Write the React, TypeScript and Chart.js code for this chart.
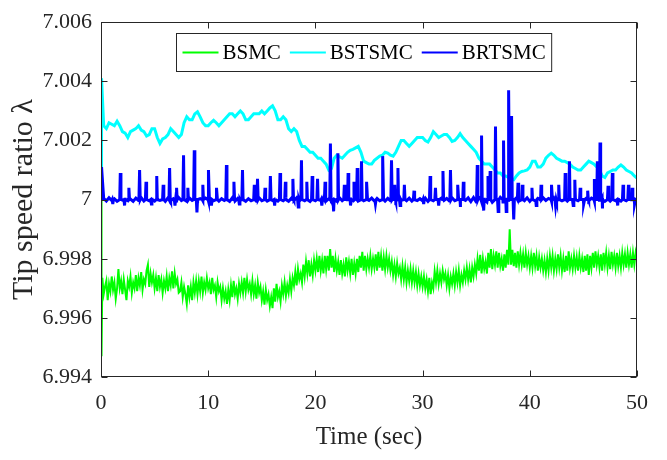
import React, { useEffect, useRef } from "react";
import { Chart, registerables } from "chart.js";

Chart.register(...registerables);

// ---------- data ----------
const seriesNames = ["BSMC", "BSTSMC", "BRTSMC"];
const xTickValues = [0, 10, 20, 30, 40, 50];
const yTickValues = [6.994, 6.996, 6.998, 7, 7.002, 7.004, 7.006];

// initial transient (t = 0 and just after)
const startTime = [0, 0.05];
const bsmcStart = [7.0, 6.9947];
const bstsmcStart = [7.0, 7.0041];
const brtsmcStart = [7.0, 7.0011];

// BSMC sampled every 0.125 s (0.125 .. 50 s)
const bsmcTime = Array.from({ length: 400 }, (_, i) => (i + 1) * 0.125);
// BSTSMC / BRTSMC baseline sampled every 0.25 s (0.25 .. 50 s)
const fineTime = Array.from({ length: 200 }, (_, i) => (i + 1) * 0.25);

const bsmc = [
  6.99735, 6.9968, 6.99705, 6.99725, 6.9966, 6.99715, 6.9969, 6.9974,
  6.99695, 6.9972, 6.99665, 6.997, 6.99765, 6.997, 6.99725, 6.9968,
  6.9973, 6.99695, 6.9966, 6.99725, 6.99705, 6.9974, 6.99685, 6.9972,
  6.997, 6.99745, 6.9969, 6.99735, 6.9971, 6.99755, 6.99695, 6.9973,
  6.99715, 6.9976, 6.9978, 6.99705, 6.9975, 6.9972, 6.99745, 6.997,
  6.99735, 6.9969, 6.99745, 6.99705, 6.9973, 6.99685, 6.99725, 6.997,
  6.9974, 6.9969, 6.99735, 6.9971, 6.99757, 6.997, 6.9975, 6.99715,
  6.9973, 6.99685, 6.9969, 6.9972, 6.9967, 6.99705, 6.9968, 6.99647,
  6.9971, 6.9967, 6.99705, 6.9966, 6.9972, 6.99685, 6.99725, 6.9968,
  6.99725, 6.9969, 6.9974, 6.99685, 6.9972, 6.99695, 6.99735, 6.997,
  6.9972, 6.9968, 6.99735, 6.99695, 6.9971, 6.9967, 6.9972, 6.9969,
  6.99705, 6.9966, 6.997, 6.99665, 6.9969, 6.99647, 6.99695, 6.9966,
  6.9971, 6.9967, 6.99725, 6.9968, 6.997, 6.99665, 6.99715, 6.99685,
  6.9972, 6.99685, 6.99735, 6.9969, 6.9973, 6.99695, 6.99715, 6.9968,
  6.99725, 6.9968, 6.9971, 6.99665, 6.9972, 6.99685, 6.99705, 6.9966,
  6.9969, 6.99645, 6.99695, 6.9966, 6.9968, 6.9964, 6.9967, 6.99633,
  6.997, 6.99655, 6.99715, 6.9967, 6.9969, 6.99655, 6.9971, 6.9968,
  6.9972, 6.99675, 6.9971, 6.99685, 6.9973, 6.9969, 6.99735, 6.9971,
  6.99755, 6.9971, 6.99765, 6.9973, 6.9975, 6.9972, 6.9978, 6.9974,
  6.9979, 6.9975, 6.99795, 6.9974, 6.9978, 6.99745, 6.99795, 6.9976,
  6.998, 6.99755, 6.9981, 6.9976, 6.99795, 6.9975, 6.9981, 6.99765,
  6.9981, 6.9976, 6.99833, 6.9977, 6.9981, 6.99755, 6.998, 6.9976,
  6.9979, 6.99745, 6.99795, 6.9975, 6.9978, 6.9974, 6.99805, 6.9976,
  6.9979, 6.9975, 6.998, 6.99745, 6.99785, 6.9975, 6.998, 6.99755,
  6.9981, 6.9977, 6.99823, 6.9976, 6.9981, 6.99765, 6.998, 6.9977,
  6.9981, 6.99765, 6.998, 6.9977, 6.99815, 6.9976, 6.99823, 6.9977,
  6.9981, 6.9976, 6.99805, 6.99765, 6.9981, 6.9977, 6.998, 6.9976,
  6.9979, 6.99745, 6.9978, 6.9974, 6.99785, 6.9975, 6.9977, 6.9973,
  6.99775, 6.9973, 6.9977, 6.9972, 6.9976, 6.99725, 6.99765, 6.9972,
  6.9976, 6.9972, 6.99755, 6.9971, 6.9975, 6.9971, 6.9974, 6.99705,
  6.9974, 6.997, 6.9973, 6.9969, 6.99735, 6.9968, 6.9972, 6.997,
  6.99757, 6.9972, 6.9976, 6.99715, 6.9975, 6.9972, 6.9976, 6.9973,
  6.9975, 6.9971, 6.99745, 6.997, 6.9974, 6.99715, 6.9975, 6.9971,
  6.99755, 6.9972, 6.9976, 6.9971, 6.99745, 6.9972, 6.9976, 6.9973,
  6.9977, 6.9973, 6.99765, 6.9972, 6.9977, 6.9974, 6.9978, 6.9975,
  6.998, 6.9976, 6.99813, 6.9975, 6.998, 6.99765, 6.9979, 6.9975,
  6.9982, 6.9977, 6.99833, 6.99765, 6.9981, 6.9978, 6.99825, 6.9977,
  6.9982, 6.99775, 6.998, 6.9976, 6.99815, 6.9977, 6.9983, 6.9978,
  6.999, 6.9978, 6.9983, 6.99775, 6.9982, 6.9977, 6.99825, 6.9978,
  6.9982, 6.9978, 6.99815, 6.9977, 6.9982, 6.9978, 6.9981, 6.9977,
  6.9981, 6.9977, 6.9982, 6.99775, 6.9981, 6.9976, 6.99805, 6.9977,
  6.998, 6.9976, 6.99795, 6.99755, 6.998, 6.9976, 6.9981, 6.9977,
  6.9981, 6.9976, 6.998, 6.99765, 6.99815, 6.9977, 6.9981, 6.9976,
  6.998, 6.99755, 6.9981, 6.9976, 6.99825, 6.9977, 6.998, 6.99765,
  6.9981, 6.9977, 6.99805, 6.9976, 6.9981, 6.9977, 6.998, 6.99755,
  6.9981, 6.9976, 6.99815, 6.99745, 6.9981, 6.9977, 6.9982, 6.9977,
  6.99825, 6.9978, 6.9981, 6.9977, 6.99815, 6.9976, 6.9982, 6.9978,
  6.9982, 6.9977, 6.9981, 6.99765, 6.99823, 6.9978, 6.9981, 6.9977,
  6.9982, 6.99775, 6.9981, 6.9977, 6.9982, 6.9978, 6.99815, 6.9977,
  6.9982, 6.9978, 6.99815, 6.9977, 6.9982, 6.9978, 6.9982, 6.99795,
];

const bstsmc = [
  7.0025, 7.0024, 7.0026, 7.00255, 7.0025, 7.00265, 7.0025, 7.0023,
  7.00225, 7.0021, 7.0023, 7.00235, 7.0024, 7.0025, 7.00235, 7.0023,
  7.00215, 7.0022, 7.0024, 7.0024, 7.0021, 7.0019, 7.00205, 7.0021,
  7.0022, 7.0024, 7.0023, 7.0022, 7.0021, 7.0022, 7.0026, 7.0028,
  7.0027, 7.0027, 7.0029, 7.00297, 7.0028, 7.0026, 7.0025, 7.0025,
  7.0026, 7.00268, 7.0026, 7.0025, 7.0026, 7.0027, 7.0028, 7.0029,
  7.0029, 7.0028, 7.0029, 7.003, 7.0029, 7.0027, 7.0027, 7.0028,
  7.0029, 7.0029, 7.0029, 7.003, 7.0029, 7.003, 7.0031, 7.00317,
  7.003, 7.0027, 7.0027, 7.0028, 7.0027, 7.0024, 7.0023, 7.0024,
  7.0023, 7.002, 7.0018, 7.0018, 7.0017, 7.0016, 7.0016, 7.0015,
  7.0014, 7.0014, 7.0013, 7.0012, 7.001, 7.00105, 7.0014, 7.0015,
  7.00145, 7.0014, 7.0015, 7.0016, 7.00167, 7.0017, 7.00175, 7.0018,
  7.0016, 7.0013, 7.00125, 7.0012, 7.0012, 7.00133, 7.0014, 7.00147,
  7.0015, 7.0016, 7.00157, 7.0015, 7.00147, 7.0016, 7.0018, 7.002,
  7.002, 7.0019, 7.0018, 7.0019, 7.002, 7.0021, 7.0021, 7.0021,
  7.002, 7.00195, 7.0021, 7.0023, 7.0022, 7.0021, 7.00215, 7.0022,
  7.0022, 7.0021, 7.00197, 7.002, 7.0021, 7.00223, 7.0021, 7.002,
  7.0019, 7.0018, 7.0017, 7.0016, 7.0014, 7.0013, 7.0012, 7.0012,
  7.0012, 7.0011, 7.001, 7.0009, 7.0009, 7.0008, 7.0008, 7.00075,
  7.0007, 7.00067, 7.0008, 7.0009, 7.00095, 7.00097, 7.001, 7.0011,
  7.0013, 7.0013, 7.0011, 7.0011, 7.0012, 7.0014, 7.0015, 7.00157,
  7.0015, 7.0014, 7.00135, 7.0013, 7.0013, 7.00125, 7.0012, 7.0011,
  7.00105, 7.001, 7.001, 7.0011, 7.0012, 7.0013, 7.00125, 7.0012,
  7.0011, 7.001, 7.0008, 7.00075, 7.0009, 7.00095, 7.001, 7.001,
  7.0011, 7.00117, 7.0011, 7.001, 7.00095, 7.0009, 7.0008, 7.00073,
];

const brtsmcBase = [
  7.00004, 6.99995, 7.00006, 6.99997, 7.00003, 6.99994, 7.00005, 6.99998,
  7.00006, 6.99996, 7.00002, 6.99994, 7.00005, 6.99997, 7.00007, 6.99995,
  7.00003, 6.99996, 7.00006, 6.99995, 7.00004, 6.99997, 7.00005, 6.99994,
  7.00006, 6.99996, 7.00003, 6.99995, 7.00007, 6.99997, 7.00004, 6.99994,
  7.00005, 6.99997, 7.00006, 6.99994, 7.00003, 6.99996, 7.00005, 6.99995,
  7.00004, 6.99996, 7.00007, 6.99995, 7.00003, 6.99997, 7.00005, 6.99994,
  7.00006, 6.99995, 7.00004, 6.99997, 7.00006, 6.99994, 7.00003, 6.99996,
  7.00005, 6.99994, 7.00006, 6.99996, 7.00004, 6.99995, 7.00007, 6.99997,
  7.00003, 6.99995, 7.00005, 6.99996, 7.00006, 6.99994, 7.00004, 6.99997,
  7.00006, 6.99995, 7.00003, 6.99996, 7.00005, 6.99994, 7.00007, 6.99996,
  7.00004, 6.99997, 7.00006, 6.99995, 7.00003, 6.99996, 7.00005, 6.99994,
  7.00006, 6.99996, 7.00004, 6.99995, 7.00007, 6.99997, 7.00003, 6.99995,
  7.00005, 6.99996, 7.00003, 6.99997, 7.00005, 6.99995, 7.00004, 6.99996,
  7.00006, 6.99995, 7.00004, 6.99996, 7.00005, 6.99994, 7.00006, 6.99997,
  7.00003, 6.99996, 7.00005, 6.99995, 7.00004, 6.99997, 7.00003, 6.99996,
  7.00005, 6.99994, 7.00006, 6.99996, 7.00003, 6.99995, 7.00005, 6.99997,
  7.00004, 6.99995, 7.00006, 6.99996, 7.00005, 6.99994, 7.00004, 6.99997,
  7.00006, 6.99993, 7.00007, 6.99992, 7.00008, 6.99993, 7.00006, 6.99992,
  7.00008, 6.99991, 7.00007, 6.99993, 7.00008, 6.99992, 7.00006, 6.99993,
  7.00007, 6.99994, 7.00006, 6.99995, 7.00005, 6.99996, 7.00006, 6.99994,
  7.00005, 6.99996, 7.00004, 6.99995, 7.00006, 6.99997, 7.00004, 6.99995,
  7.00006, 6.99994, 7.00005, 6.99996, 7.00004, 6.99995, 7.00007, 6.99994,
  7.00005, 6.99996, 7.00006, 6.99994, 7.00004, 6.99996, 7.00005, 6.99995,
  7.00006, 6.99993, 7.00005, 6.99994, 7.00006, 6.99995, 7.00004, 6.99996,
  7.00005, 6.99995, 7.00006, 6.99996, 7.00004, 6.99995, 7.00005, 6.99996,
];

// BRTSMC short spikes (time in s, peak value)
const brtsmcSpikeTime = [
  1.1, 1.8, 2.2, 2.6, 3.6, 4.2, 4.7, 5.2, 5.8, 6.4, 6.9, 7.05, 7.7, 8.1, 8.7, 8.95,
  9.5, 10.05, 10.3, 10.8, 11.7, 12.4, 12.9, 13.2, 14.3, 14.6, 15.3, 15.8, 16.2, 16.7,
  17.2, 17.9, 18.4, 18.7, 19.2, 19.7, 20.2, 20.6, 20.9, 21.4, 21.7, 22.1, 22.7, 23.05,
  23.3, 23.6, 23.9, 24.3, 24.8, 25.6, 26.3, 27.1, 27.4, 27.7, 27.9, 28.3, 29.2, 30.1,
  30.7, 31.2, 31.5, 31.9, 32.6, 33.3, 33.5, 33.8, 35.1, 35.5, 35.7, 36.1, 36.3, 36.8,
  37.05, 37.55, 37.8, 38.05, 38.3, 38.5, 38.9, 39.3, 40.2, 40.6, 41.05, 42.05, 42.4,
  42.7, 43.3, 43.7, 44.05, 44.2, 44.7, 45.05, 45.4, 46.05, 46.3, 46.55, 46.75, 47.3,
  47.7, 48.2, 48.7, 49.2, 49.55, 49.8,
];
const brtsmcSpikeValue = [
  6.99985, 7.0009, 6.9998, 7.0004, 7.001, 7.0006, 6.99985, 7.0008, 7.0005, 7.00107, 6.9998, 7.0004, 7.0015, 7.0004, 7.00167, 6.99957,
  7.0005, 7.001, 6.9998, 7.0004, 7.00117, 7.0006, 6.99985, 7.001, 7.0005, 7.0007, 7.0004, 7.0008, 6.9998, 7.0009,
  7.0006, 7.0007, 6.99975, 7.00133, 7.0006, 7.0008, 7.0007, 6.9998, 7.0006, 7.0019, 6.9996, 7.00157, 7.0005, 7.0009,
  6.9998, 7.0006, 7.00107, 7.0013, 7.0006, 6.99985, 7.00147, 7.00133, 7.0005, 7.00107, 6.9998, 7.0005, 7.0003, 6.99985,
  7.0008, 7.0004, 6.9998, 7.00097, 7.001, 7.0005, 6.99975, 7.0006, 7.00117, 7.00217, 6.99963, 7.0008, 7.00097, 7.00247,
  6.9996, 7.002, 6.9996, 7.0037, 7.00283, 6.99933, 7.00057, 7.0005, 7.0004, 6.9998, 7.0005, 7.0005, 6.9998,
  7.0005, 7.0009, 7.0013, 6.9998, 7.00067, 7.0004, 6.99985, 7.0003, 7.0007, 7.0013, 7.00193, 6.9997, 7.00047,
  7.0009, 6.9998, 7.0005, 7.0005, 7.0004, 6.99985,
];
const spikeHalfWidth = 0.06; // seconds either side of a spike peak
const spikeFoot = 7.0;

// ---------- styling ----------
const FONT = "'Liberation Serif', 'Times New Roman', serif";
const TEXT = "#262626";
const COLORS = ["#00ff00", "#00ffff", "#0000ff"];
const WIDTHS = [2, 3, 3];

function toPoints(t0: number[], v0: number[], t: number[], v: number[]) {
  return [
    ...t0.map((x, i) => ({ x, y: v0[i] })),
    ...t.map((x, i) => ({ x, y: v[i] })),
  ];
}

function withSpikes(points: { x: number; y: number }[]) {
  const extra: { x: number; y: number }[] = [];
  brtsmcSpikeTime.forEach((t, i) => {
    extra.push({ x: t - spikeHalfWidth, y: spikeFoot });
    extra.push({ x: t, y: brtsmcSpikeValue[i] });
    extra.push({ x: t + spikeHalfWidth, y: spikeFoot });
  });
  return [...points, ...extra].sort((a, b) => a.x - b.x);
}

const framePlugin = {
  id: "matlabFrame",
  afterDraw(chart: any) {
    const { ctx, chartArea, scales } = chart;
    const { left, right, top, bottom } = chartArea;
    const L = Math.round(left) + 0.5;
    const R = Math.round(right) - 0.5;
    const T = Math.round(top) + 0.5;
    const B = Math.round(bottom) - 0.5;
    ctx.save();
    ctx.strokeStyle = TEXT;
    ctx.lineWidth = 1;
    ctx.strokeRect(L, T, R - L, B - T);
    const tl = 6;
    ctx.beginPath();
    for (const v of xTickValues) {
      const p = Math.round(scales.x.getPixelForValue(v)) + 0.5;
      ctx.moveTo(p, B);
      ctx.lineTo(p, B - tl);
      ctx.moveTo(p, T);
      ctx.lineTo(p, T + tl);
    }
    for (const v of yTickValues) {
      const p = Math.round(scales.y.getPixelForValue(v)) + 0.5;
      ctx.moveTo(L, p);
      ctx.lineTo(L + tl, p);
      ctx.moveTo(R, p);
      ctx.lineTo(R - tl, p);
    }
    ctx.stroke();

    // legend box (inside the axes, top)
    ctx.font = `21px ${FONT}`;
    const lineLen = 36;
    const gapLT = 4;
    const gapItems = 9;
    const pad = 6;
    const widths = seriesNames.map((n) => ctx.measureText(n).width);
    let total = pad * 2;
    widths.forEach((w, i) => {
      total += lineLen + gapLT + w + (i < widths.length - 1 ? gapItems : 0);
    });
    const cx = (left + right) / 2 - 5;
    const bx = Math.round(cx - total / 2) + 0.5;
    const by = Math.round(top + 11) + 0.5;
    const bh = 38;
    ctx.fillStyle = "#ffffff";
    ctx.fillRect(bx, by, total, bh);
    ctx.strokeStyle = TEXT;
    ctx.lineWidth = 1;
    ctx.strokeRect(bx, by, total, bh);
    let x = bx + pad;
    const my = by + bh / 2;
    seriesNames.forEach((n, i) => {
      ctx.strokeStyle = COLORS[i];
      ctx.lineWidth = 2;
      ctx.beginPath();
      ctx.moveTo(x, my);
      ctx.lineTo(x + lineLen, my);
      ctx.stroke();
      x += lineLen + gapLT;
      ctx.fillStyle = "#000000";
      ctx.textBaseline = "middle";
      ctx.textAlign = "left";
      ctx.fillText(n, x, my + 1);
      x += widths[i] + gapItems;
    });
    ctx.restore();
  },
};

export default function App() {
  const ref = useRef<HTMLCanvasElement | null>(null);

  useEffect(() => {
    if (!ref.current) return;
    const chart = new Chart(ref.current, {
      type: "line",
      data: {
        datasets: [
          {
            label: seriesNames[0],
            data: toPoints(startTime, bsmcStart, bsmcTime, bsmc),
            borderColor: COLORS[0],
            borderWidth: WIDTHS[0],
            order: 3,
          },
          {
            label: seriesNames[1],
            data: toPoints(startTime, bstsmcStart, fineTime, bstsmc),
            borderColor: COLORS[1],
            borderWidth: WIDTHS[1],
            order: 2,
          },
          {
            label: seriesNames[2],
            data: withSpikes(toPoints(startTime, brtsmcStart, fineTime, brtsmcBase)),
            borderColor: COLORS[2],
            borderWidth: WIDTHS[2],
            order: 1,
          },
        ],
      },
      options: {
        responsive: false,
        animation: false,
        events: [],
        layout: { padding: { left: 0, right: 30, top: 17, bottom: 0 } },
        elements: {
          point: { radius: 0 },
          line: { tension: 0, fill: false },
        },
        plugins: {
          legend: { display: false },
          tooltip: { enabled: false },
        },
        scales: {
          x: {
            type: "linear",
            min: 0,
            max: 50,
            afterBuildTicks: (s: any) => {
              s.ticks = xTickValues.map((value) => ({ value }));
            },
            afterFit: (s: any) => {
              s.height = 83;
            },
            grid: { display: false, drawTicks: false },
            border: { display: false },
            ticks: {
              padding: 13,
              maxRotation: 0,
              autoSkip: false,
              color: TEXT,
              font: { family: FONT, size: 22 },
            },
            title: {
              display: true,
              text: "Time (sec)",
              color: TEXT,
              font: { family: FONT, size: 25 },
              padding: { top: 0, bottom: 8 },
            },
          },
          y: {
            type: "linear",
            min: 6.994,
            max: 7.006,
            afterBuildTicks: (s: any) => {
              s.ticks = yTickValues.map((value) => ({ value }));
            },
            afterFit: (s: any) => {
              s.width = 101;
            },
            grid: { display: false, drawTicks: false },
            border: { display: false },
            ticks: {
              padding: 9,
              autoSkip: false,
              color: TEXT,
              font: { family: FONT, size: 22 },
              callback: (v: any) => String(Number(Number(v).toFixed(3))),
            },
            title: {
              display: true,
              text: "Tip speed ratio λ",
              color: TEXT,
              font: { family: FONT, size: 30 },
              padding: { top: 6, bottom: 0 },
            },
          },
        },
      },
      plugins: [framePlugin],
    });
    return () => chart.destroy();
  }, []);

  return (
    <div style={{ position: "fixed", left: 0, top: 0, width: 667, height: 460, background: "#fff" }}>
      <canvas ref={ref} width={667} height={460} />
    </div>
  );
}
